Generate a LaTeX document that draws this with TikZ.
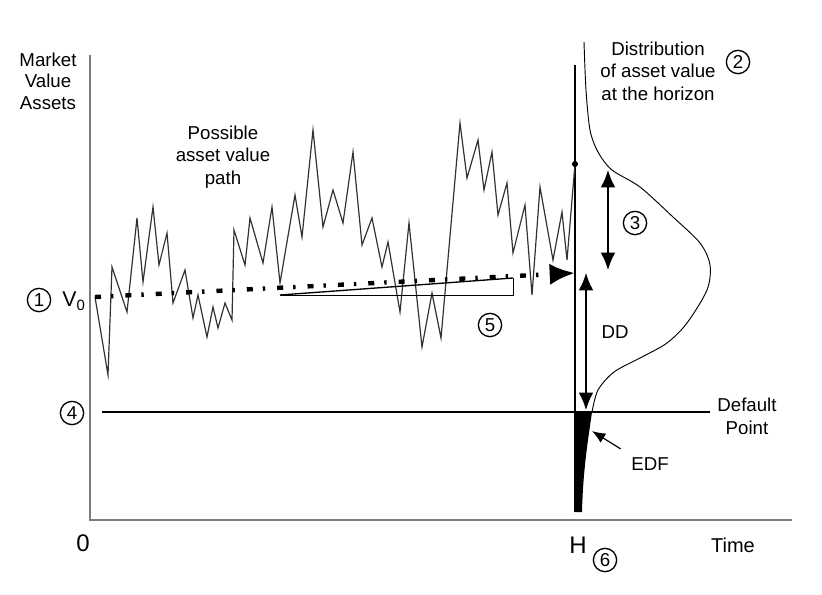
\documentclass[tikz,border=0pt]{standalone}
\usepackage{fontspec}
\setmainfont{Liberation Sans}
\usepackage{tikz}
\usepackage{xcolor}
\usetikzlibrary{arrows.meta, positioning}
\definecolor{axisgray}{RGB}{125,125,125}
\definecolor{pathgray}{RGB}{50,50,50}

\begin{document}
\begin{tikzpicture}[x=0.75pt, y=-0.75pt,
    every node/.style={font=\fontsize{14}{17}\selectfont, align=center},
    num/.style={circle, draw, line width=1pt, minimum size=17.5pt, inner sep=0pt, font=\fontsize{14}{14}\selectfont},
    onetip/.style={-{Latex[length=13pt, width=11pt]}},
    twotip/.style={{Latex[length=13pt, width=11pt]}-{Latex[length=13pt, width=11pt]}}]
    \useasboundingbox (0,0) rectangle (822,594);

    % Axes
    \coordinate (origin) at (90,520);
    \coordinate (ytop) at (90,55);
    \coordinate (xend) at (792,520);
    \draw[axisgray, line width=1.5pt] (ytop) -- (origin) -- (xend);
    \node[font=\fontsize{14}{16}\selectfont] (ylab) at (48,81) {Market\\Value\\Assets};
    \node[font=\fontsize{18}{18}\selectfont] (zero) at (83,543) {0};
    \node[font=\fontsize{18}{18}\selectfont] (hlab) at (578,545) {H};
    \node[num] (n6) at (605,560) {6};
    \node[font=\fontsize{15}{15}\selectfont] (time) at (733,545) {Time};

    % Default point
    \coordinate (dpl) at (102,412);
    \coordinate (dpr) at (710,412);
    \draw[line width=1.2pt] (dpl) -- (dpr);
    \node (dplab) at (747,416) {Default\\Point};
    \node[num] (n4) at (72,413) {4};

    % Horizon and distribution
    \coordinate (htop) at (575,65);
    \coordinate (hbot) at (575,512);
    \draw[line width=1.5pt] (htop) -- (hbot);
    \fill (575,412) -- (592,412) .. controls (588,440) and (583,470) .. (582,512) -- (575,512) -- cycle;
    \draw[line width=0.7pt, smooth] plot coordinates {(584,42) (586,90) (590,130) (598,152) (612,170)
        (640,187) (673,217) (700,243) (710,265) (707,290) (687,323) (667,343) (640,358)
        (614,372) (598,390) (592,412)};
    \node (distlab) at (658,71) {Distribution\\of asset value\\at the horizon};
    \node[num] (n2) at (738,62) {2};

    % Possible asset value path
    \draw[pathgray, line width=0.9pt] plot coordinates {(95,297) (108,375) (112,267) (127,312) (137,218)
        (143,282) (153,207) (159,265) (167,233) (173,303) (185,270) (193,318) (198,295) (207,337)
        (213,307) (218,328) (225,303) (232,320) (234,230) (245,265) (250,218) (263,263) (272,207)
        (280,283) (295,195) (302,237) (313,130) (323,227) (333,190) (343,223) (353,152) (362,245)
        (372,218) (382,267) (388,242) (400,312) (409,223) (422,347) (432,293) (441,338) (460,123)
        (467,178) (478,140) (484,190) (492,152) (498,215) (507,183) (513,253) (525,205) (532,295)
        (540,187) (553,260) (562,212) (567,260) (575,164)};
    \coordinate (pend) at (575,164);
    \fill (pend) circle (2.3pt);
    \node (pathlab) at (223,157) {Possible\\asset value\\path};

    % Expected growth
    \coordinate (v0pt) at (95,297);
    \coordinate (dtip) at (575,273);
    \draw[line width=3.3pt, dash pattern=on 4.5pt off 7.5pt on 1.8pt off 9pt,
        -{Latex[length=19pt, width=16pt]}] (v0pt) -- (dtip);
    \node[num] (n1) at (39,300) {1};
    \node[font=\fontsize{16}{16}\selectfont] (v0) at (74,301) {V\textsubscript{0}};
    \coordinate (tA) at (280,295);
    \coordinate (tB) at (513,295);
    \coordinate (tC) at (513,278);
    \draw[line width=0.6pt] (tA) -- (tB) -- (tC);
    \draw[line width=1pt] (tA) -- (tC);
    \node[num] (n5) at (490,325) {5};

    % Distance to default
    \coordinate (a3top) at (608,170);
    \coordinate (a3bot) at (608,270);
    \draw[twotip, line width=1.2pt] (a3top) -- (a3bot);
    \node[num] (n3) at (635,223) {3};
    \coordinate (ddtop) at (586,273);
    \coordinate (ddbot) at (586,410);
    \draw[twotip, line width=1.2pt] (ddtop) -- (ddbot);
    \node (dd) at (615,332) {DD};

    % EDF
    \node (edf) at (650,464) {EDF};
    \coordinate (edftip) at (592,431);
    \draw[-{Latex[length=10pt, width=8pt]}, line width=0.9pt] ([shift={(-6,-4)}]edf.north west) -- (edftip);
\end{tikzpicture}
\end{document}
